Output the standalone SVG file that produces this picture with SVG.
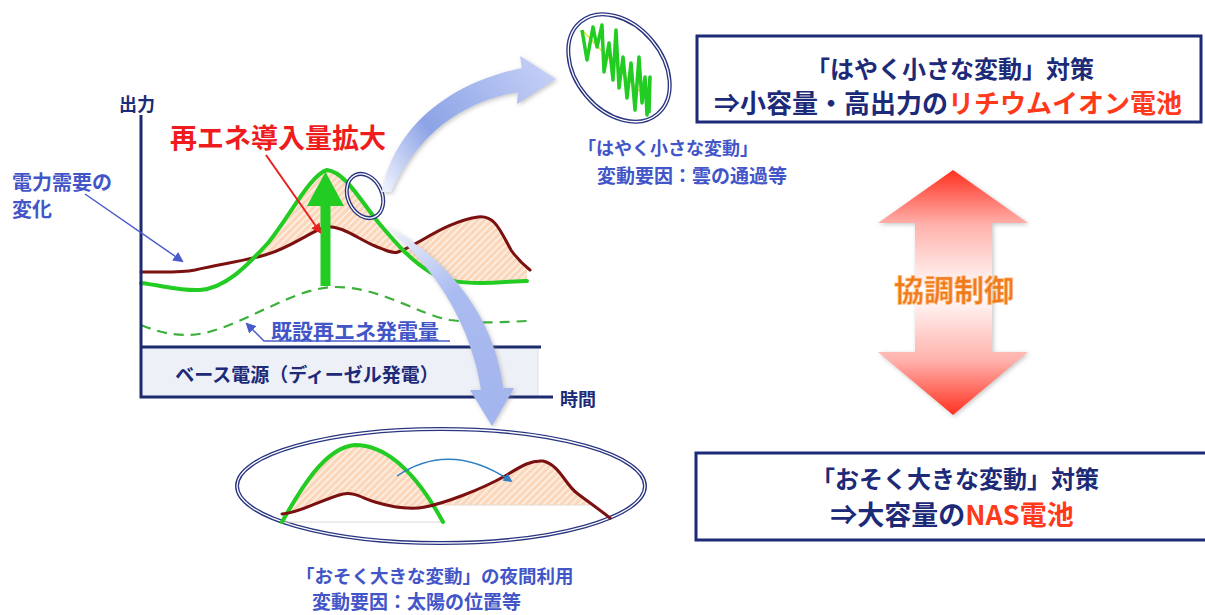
<svg xmlns="http://www.w3.org/2000/svg" width="1205" height="615" viewBox="0 0 1205 615">
<style>
.jp{font-family:"Noto Sans CJK JP","Noto Sans",sans-serif;font-weight:bold}
.navy{fill:#1c2a78}
.blue{fill:#4356c8}
.red{fill:#ff3a1a}
.axis{stroke:#1c2a6e;stroke-width:3;fill:none}
.green{stroke:#22cc22;stroke-width:4;fill:none;stroke-linecap:round;stroke-linejoin:round}
.demand{stroke:#7a1010;stroke-width:3;fill:none;stroke-linecap:round;stroke-linejoin:round}
.dbl1{fill:none;stroke:#2a3580;stroke-width:4}
.dbl2{fill:none;stroke:#ffffff;stroke-width:1.3}
.box{fill:#ffffff;stroke:#1c2a78;stroke-width:3}
</style>
<defs>
<pattern id="hatch" width="5" height="5" patternUnits="userSpaceOnUse" patternTransform="rotate(45)">
<rect width="5" height="5" fill="#fcd6b8"/><rect width="1.8" height="5" fill="#fbefe6"/>
</pattern>
<linearGradient id="gUp" gradientUnits="userSpaceOnUse" x1="385" y1="190" x2="552" y2="76">
<stop offset="0" stop-color="#eef1fc"/><stop offset="0.35" stop-color="#8ca3e6"/><stop offset="1" stop-color="#c4cff6"/>
</linearGradient>
<linearGradient id="gDown" gradientUnits="userSpaceOnUse" x1="386" y1="226" x2="492" y2="426">
<stop offset="0" stop-color="#f2f5fd"/><stop offset="0.4" stop-color="#aabbf0"/><stop offset="1" stop-color="#a3b5ee"/>
</linearGradient>
<linearGradient id="gRed" gradientUnits="userSpaceOnUse" x1="0" y1="170" x2="0" y2="415">
<stop offset="0" stop-color="#ff3020"/><stop offset="0.22" stop-color="#ffb0aa"/><stop offset="0.5" stop-color="#ffffff"/><stop offset="0.78" stop-color="#ffb0aa"/><stop offset="1" stop-color="#ff3020"/>
</linearGradient>
<filter id="sh" x="-20%" y="-20%" width="140%" height="140%">
<feDropShadow dx="1.5" dy="1.5" stdDeviation="2" flood-color="#808080" flood-opacity="0.45"/>
</filter>
<marker id="mRed" viewBox="0 0 10 10" refX="8" refY="5" markerWidth="5" markerHeight="5" orient="auto"><path d="M0,0 L10,5 L0,10 Z" fill="#e82020"/></marker>
<marker id="mBlue" viewBox="0 0 10 10" refX="8" refY="5" markerWidth="7" markerHeight="7" orient="auto"><path d="M0,0 L10,5 L0,10 Z" fill="#4a5ccc"/></marker>
<marker id="mTeal" viewBox="0 0 10 10" refX="8" refY="5" markerWidth="6" markerHeight="6" orient="auto"><path d="M0,0 L10,5 L0,10 Z" fill="#2f7fc4"/></marker>
<clipPath id="cAboveDemand"><path d="M141,272 C165,272 180,273 195,270 C220,264 240,262 265,255 C290,248 310,232 325,227 C340,224 360,240 375,246 C385,250 392,254 398,252 C420,244 445,222 478,217 C495,215 500,230 511,250 C518,260 525,266 530,270 L530,100 L141,100 Z"/></clipPath>
<clipPath id="cAboveGreen"><path d="M141,283 C165,286 180,291 200,290 C225,288 245,268 268,243 C290,216 310,175 327,170 C345,172 360,200 378,222 C395,242 410,260 430,272 C445,281 460,283 480,283 C500,283 515,281 527,281 L527,100 L141,100 Z"/></clipPath>
<clipPath id="cRight"><rect x="395" y="100" width="140" height="300"/></clipPath>
<clipPath id="cMiniAbove"><path d="M282,514 C300,513 320,500 343,494 C355,492 362,498 375,502 C395,508 410,510 425,507 C445,503 480,490 505,476 C520,467 530,460 543,461 C560,465 565,485 578,494 C590,503 600,510 610,518 L610,420 L282,420 Z"/></clipPath>
<clipPath id="cMiniRight"><rect x="440" y="420" width="170" height="85"/></clipPath>
</defs>
<rect width="1205" height="615" fill="#ffffff"/>

<g id="chart">
<g clip-path="url(#cRight)">
<path d="M141,272 C165,272 180,273 195,270 C220,264 240,262 265,255 C290,248 310,232 325,227 C340,224 360,240 375,246 C385,250 392,254 398,252 C420,244 445,222 478,217 C495,215 500,230 511,250 C518,260 525,266 530,270 L530,400 L141,400 Z" fill="url(#hatch)" clip-path="url(#cAboveGreen)"/>
</g>
<g clip-path="url(#cAboveDemand)">
<path d="M141,283 C165,286 180,291 200,290 C225,288 245,268 268,243 C290,216 310,175 327,170 C345,172 360,200 378,222 C395,242 410,260 430,272 C445,281 460,283 480,283 C500,283 515,281 527,281 L527,400 L141,400 Z" fill="url(#hatch)"/>
</g>
<rect x="141" y="347" width="397" height="50" fill="#eef0f7" stroke="#dfe2ee" stroke-width="1"/>
<path d="M141,325 C165,335 185,337 205,333 C250,322 295,287 336,287 C380,287 420,315 450,320 C480,324 505,322 527,321" fill="none" stroke="#3bb03b" stroke-width="2.2" stroke-dasharray="10 7"/>
<path class="demand" d="M141,272 C165,272 180,273 195,270 C220,264 240,262 265,255 C290,248 310,232 325,227 C340,224 360,240 375,246 C385,250 392,254 398,252 C420,244 445,222 478,217 C495,215 500,230 511,250 C518,260 525,266 530,270"/>
<path class="green" d="M141,283 C165,286 180,291 200,290 C225,288 245,268 268,243 C290,216 310,175 327,170 C345,172 360,200 378,222 C395,242 410,260 430,272 C445,281 460,283 480,283 C500,283 515,281 527,281"/>
<path d="M141,115 L141,397 L553,397 M141,347 L541,347" class="axis"/>
<polygon points="320.5,286 330.5,286 330.5,206 344,206 325.5,172 307,206 320.5,206" fill="#22cc22"/>
<g transform="rotate(-25 365 196)"><ellipse cx="365" cy="196" rx="17" ry="23" class="dbl1"/><ellipse cx="365" cy="196" rx="17" ry="23" class="dbl2"/></g>
<text x="137" y="103" class="jp navy" font-size="18" text-anchor="middle" dominant-baseline="central">出力</text>
<text x="578" y="398" class="jp navy" font-size="18" text-anchor="middle" dominant-baseline="central">時間</text>
<text x="278" y="136" class="jp" fill="#ee1c1c" font-size="27" text-anchor="middle" dominant-baseline="central">再エネ導入量拡大</text>
<line x1="266" y1="155" x2="320" y2="232" stroke="#e82020" stroke-width="2" marker-end="url(#mRed)"/>
<text x="12" y="181" class="jp blue" font-size="20" dominant-baseline="central">電力需要の</text>
<text x="12" y="208" class="jp blue" font-size="20" dominant-baseline="central">変化</text>
<line x1="85" y1="194" x2="182" y2="261" stroke="#4a5ccc" stroke-width="1.5" marker-end="url(#mBlue)"/>
<text x="355" y="330" class="jp blue" font-size="21" text-anchor="middle" dominant-baseline="central">既設再エネ発電量</text>
<polyline points="450,341 264,341 247,324" fill="none" stroke="#4a5ccc" stroke-width="1.5" marker-end="url(#mBlue)"/>
<text x="307" y="373" class="jp navy" font-size="19" text-anchor="middle" dominant-baseline="central">ベース電源（ディーゼル発電）</text>
</g>

<g id="connectors">
<path d="M382,192 C392,135 440,85 522,68 L520,56 L556,79 L517,104 L518,92 C460,102 418,135 391,192 Z" fill="url(#gUp)" filter="url(#sh)"/>
<path d="M386,226 C448,258 495,318 503,388 L514,388 L492,426 L470,390 L481,390 C472,330 440,272 386,226 Z" fill="url(#gDown)" filter="url(#sh)"/>
</g>

<g id="fast-ellipse">
<g transform="rotate(50 619 68)"><ellipse cx="619" cy="68" rx="60" ry="43" class="dbl1"/><ellipse cx="619" cy="68" rx="60" ry="43" class="dbl2"/></g>
<line x1="582" y1="30" x2="650" y2="102" stroke="#e6e030" stroke-width="1.5"/>
<polyline points="582,30 587,60 593,27 597,47 602,25 604,72 609,43 613,80 616,30 619,88 623,57 627,98 631,63 635,110 639,57 642,103 645,77 647,115 650,77 649,113" fill="none" stroke="#22cc22" stroke-width="3.5" stroke-linejoin="round"/>
<text x="578" y="147" class="jp blue" font-size="18" dominant-baseline="central">「はやく小さな変動」</text>
<text x="597" y="174" class="jp blue" font-size="19" dominant-baseline="central">変動要因：雲の通過等</text>
</g>

<g id="slow-ellipse">
<ellipse cx="441" cy="486" rx="204" ry="57" class="dbl1"/><ellipse cx="441" cy="486" rx="204" ry="57" class="dbl2"/>
<g clip-path="url(#cMiniAbove)"><path d="M282,522 C300,490 325,447 355,445 C390,445 420,480 443,522 Z" fill="url(#hatch)"/></g>
<g clip-path="url(#cMiniRight)"><path d="M282,514 C300,513 320,500 343,494 C355,492 362,498 375,502 C395,508 410,510 425,507 C445,503 480,490 505,476 C520,467 530,460 543,461 C560,465 565,485 578,494 C590,503 600,510 610,518 L610,560 L282,560 Z" fill="url(#hatch)"/></g>
<line x1="282" y1="522" x2="443" y2="522" stroke="#d8d8d8" stroke-width="1"/>
<line x1="443" y1="505" x2="590" y2="505" stroke="#e8d8c8" stroke-width="1"/>
<path class="green" d="M282,522 C300,490 325,447 355,445 C390,445 420,480 443,522"/>
<path class="demand" d="M282,514 C300,513 320,500 343,494 C355,492 362,498 375,502 C395,508 410,510 425,507 C445,503 480,490 505,476 C520,467 530,460 543,461 C560,465 565,485 578,494 C590,503 600,510 610,518"/>
<path d="M397,476 Q450,440 511,481" fill="none" stroke="#2f7fc4" stroke-width="1.5" marker-end="url(#mTeal)"/>
<text x="296" y="575" class="jp blue" font-size="18.5" dominant-baseline="central">「おそく大きな変動」の夜間利用</text>
<text x="312" y="600" class="jp blue" font-size="19" dominant-baseline="central">変動要因：太陽の位置等</text>
</g>

<g id="box-fast">
<rect x="697" y="36" width="504" height="86" class="box"/>
<text x="950" y="67" class="jp navy" font-size="24" text-anchor="middle" dominant-baseline="central">「はやく小さな変動」対策</text>
<text x="948" y="101" class="jp navy" font-size="26" text-anchor="middle" dominant-baseline="central">⇒小容量・高出力の<tspan class="red">リチウムイオン電池</tspan></text>
</g>

<g id="box-slow">
<rect x="696" y="453" width="515" height="87" class="box"/>
<text x="955" y="477" class="jp navy" font-size="24" text-anchor="middle" dominant-baseline="central">「おそく大きな変動」対策</text>
<text x="952" y="513" class="jp navy" font-size="27" text-anchor="middle" dominant-baseline="central">⇒大容量の<tspan class="red">NAS電池</tspan></text>
</g>

<g id="coordination">
<polygon points="953,170 1028,223 992,223 992,352 1028,352 953,415 878,352 915,352 915,223 878,223" fill="url(#gRed)" filter="url(#sh)"/>
<text x="954" y="288" class="jp" fill="#f07a1e" stroke="#ffc080" stroke-width="0.6" font-size="30" text-anchor="middle" dominant-baseline="central">協調制御</text>
</g>
</svg>
